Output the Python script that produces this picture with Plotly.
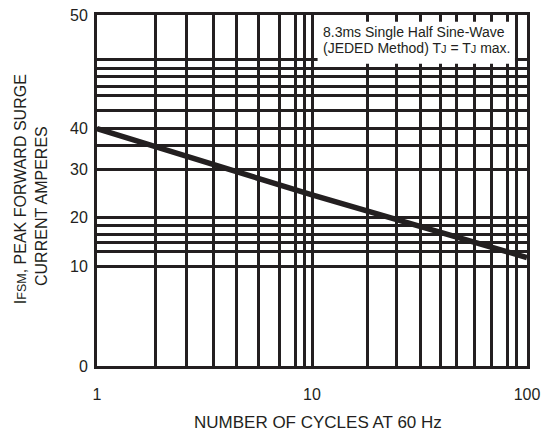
import numpy as np
import plotly.graph_objects as go

# Surge rating curve: peak forward surge current vs. number of cycles
cycles = [1, 10, 100]
surge_current = [40, 24.7, 11.8]

# Y axis labels and where each sits on the chart's (non-linear) current scale
y_label_values = [0, 10, 20, 30, 40, 50]
y_label_text = ["0", "10", "20", "30", "40", "50"]
y_label_pos = [0.0, 0.284, 0.423, 0.560, 0.676, 1.0]

# X axis labels
x_label_values = [1, 10, 100]
x_label_text = ["1", "10", "100"]

# Printed grid ruling (log10 positions for x, scale fraction for y)
x_grid_log = [0.273, 0.416, 0.540, 0.650, 0.749, 0.847, 0.921, 0.966,
              1.256, 1.395, 1.504, 1.597, 1.674, 1.757, 1.834, 1.907, 1.953]
y_grid_pos = [0.325, 0.351, 0.376, 0.399, 0.628, 0.729, 0.771, 0.797,
              0.824, 0.847, 0.873]

INK = "#231f20"
FONT = "Liberation Sans, Arial, Helvetica, sans-serif"


def current_to_axis(values):
    """Map current (A) onto the chart's vertical scale."""
    return np.interp(values, y_label_values, y_label_pos)


fig = go.Figure()
fig.add_trace(go.Scatter(
    x=cycles,
    y=current_to_axis(surge_current),
    mode="lines",
    line=dict(color=INK, width=5.5),
    hoverinfo="skip",
    showlegend=False,
))

x_tickvals = list(x_label_values) + [10 ** v for v in x_grid_log]
x_ticktext = list(x_label_text) + [""] * len(x_grid_log)
y_tickvals = list(y_label_pos) + list(y_grid_pos)
y_ticktext = list(y_label_text) + [""] * len(y_grid_pos)

fig.update_xaxes(
    type="log", range=[0, 2],
    tickmode="array", tickvals=x_tickvals, ticktext=x_ticktext,
    showgrid=True, gridcolor=INK, gridwidth=2.5,
    showline=True, mirror=True, linecolor=INK, linewidth=3,
    zeroline=False, ticks="", ticklabelstandoff=12,
    tickfont=dict(family=FONT, size=16, color=INK),
)
fig.update_yaxes(
    range=[0, 1],
    tickmode="array", tickvals=y_tickvals, ticktext=y_ticktext,
    showgrid=True, gridcolor=INK, gridwidth=2.5,
    showline=True, mirror=True, linecolor=INK, linewidth=3,
    zeroline=False, ticks="", ticklabelstandoff=3,
    tickfont=dict(family=FONT, size=16, color=INK),
)

# White panel behind the test-condition note
fig.add_shape(type="rect", xref="paper", yref="paper",
              x0=0.513, x1=0.972, y0=0.861, y1=0.981,
              fillcolor="white", line=dict(width=0), layer="above")

small = "<span style='font-size:11px'>{}</span>"
notes = [
    ("8.3ms Single Half Sine-Wave", 0.952),
    ("(JEDED Method) T" + small.format("J") + " = T" + small.format("J") + " max.", 0.907),
]
for text, ypos in notes:
    fig.add_annotation(text=text, xref="paper", yref="paper", x=0.522, y=ypos,
                       xanchor="left", yanchor="middle", showarrow=False,
                       font=dict(family=FONT, size=14, color=INK))

# Axis titles
fig.add_annotation(text="I" + "<span style='font-size:12.5px'>FSM</span>" + ", PEAK FORWARD SURGE",
                   xref="paper", yref="paper", x=-0.1774, y=0.503,
                   xanchor="center", yanchor="middle", textangle=-90, showarrow=False,
                   font=dict(family=FONT, size=16, color=INK))
fig.add_annotation(text="CURRENT AMPERES",
                   xref="paper", yref="paper", x=-0.1286, y=0.455,
                   xanchor="center", yanchor="middle", textangle=-90, showarrow=False,
                   font=dict(family=FONT, size=16, color=INK))
fig.add_annotation(text="NUMBER OF CYCLES AT 60 Hz",
                   xref="paper", yref="paper", x=0.514, y=-0.1607,
                   xanchor="center", yanchor="middle", showarrow=False,
                   font=dict(family=FONT, size=17, color=INK))

fig.update_layout(
    width=547, height=436,
    margin=dict(l=97, r=20, t=7, b=70),
    paper_bgcolor="white", plot_bgcolor="white",
    showlegend=False,
)

fig.write_html("out.html")
